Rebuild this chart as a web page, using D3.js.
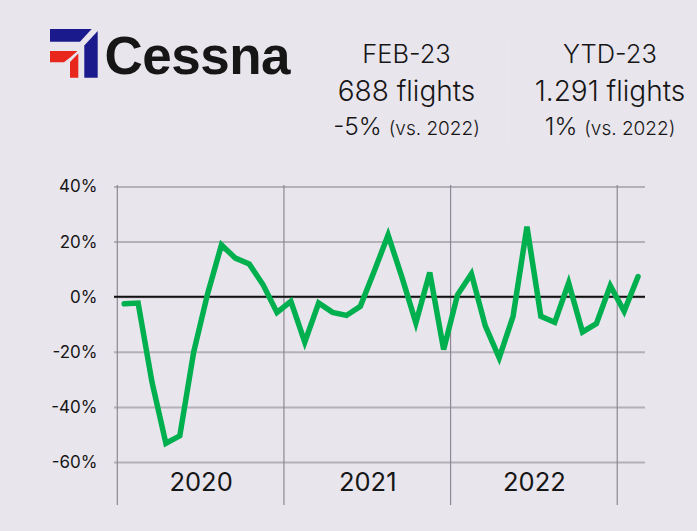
<!DOCTYPE html>
<html><head><meta charset="utf-8">
<script src="https://cdn.jsdelivr.net/npm/d3@7"></script>
<style>
body{margin:0;background:#e9e5ed;}
svg{display:block;}
text{font-family:Inter,"Noto Sans",sans-serif;fill:#161616;}
</style>
</head><body>
<svg id="chart" width="697" height="531"></svg>
<script>
// ---- data ----
const years = ["2020", "2021", "2022"];
const yTicks = [40, 20, 0, -20, -40, -60];
const growth2020 = [-2.6, -2.3, -31, -53.2, -50.5, -20.1, 1, 18.8, 14.0, 11.9, 4.3, -5.7];
const growth2021 = [-1.7, -16.5, -2.3, -5.7, -6.8, -3.5, 9.2, 22.4, 7, -9.5, 8.8, -19.2];
const growth2022 = [0.7, 8.3, -10.6, -22.2, -7.1, 25.4, -7.1, -9.3, 5.0, -12.8, -9.8, 4.0];
const growth2023 = [-5.3, 7.3];
const kpiTitles = ["FEB-23", "YTD-23"];
const kpiFlights = ["688 flights", "1.291 flights"];
const kpiChange = ["-5%", "1%"];
const kpiCompare = "(vs. 2022)";
const brand = "Cessna";

const growth = [...growth2020, ...growth2021, ...growth2022, ...growth2023];

const svg = d3.select("#chart");
svg.append("rect").attr("width", 697).attr("height", 531).attr("fill", "#e9e5ed");

const x = d3.scaleLinear().domain([0, 38]).range([117.3, 645]);
const y = d3.scaleLinear().domain([-60, 40]).range([462, 186.5]);

// horizontal gridlines + y labels
const yAxis = d3.axisLeft(y).tickValues(yTicks)
  .tickFormat(d => d + "%")
  .tickSize(-(645 - 114)).tickPadding(16.5);
const gy = svg.append("g").attr("transform", "translate(114,0)").call(yAxis);
gy.select(".domain").remove();
gy.selectAll(".tick line").attr("stroke", "#b4b0b8").attr("stroke-width", 2);
gy.selectAll(".tick text").attr("font-size", 17).attr("font-weight", 400)
  .attr("fill", "#161616").style("font-family", "Inter");

// vertical year separators
const seps = [0, 12, 24, 36];
svg.append("g").selectAll("line").data(seps).join("line")
  .attr("x1", d => x(d)).attr("x2", d => x(d))
  .attr("y1", 185).attr("y2", 505)
  .attr("stroke", "#8c8990").attr("stroke-width", 1.2);

// zero line
svg.append("line").attr("x1", 114).attr("x2", 645)
  .attr("y1", y(0)).attr("y2", y(0))
  .attr("stroke", "#111").attr("stroke-width", 2);

// year labels
const xAxis = d3.axisBottom(x).tickValues([6, 18, 30])
  .tickFormat((d, i) => years[i]).tickSize(0).tickPadding(0);
const gx = svg.append("g").attr("transform", "translate(0,490.5)").call(xAxis);
gx.select(".domain").remove();
gx.selectAll(".tick text").attr("dy", 0).attr("font-size", 25.5).attr("font-weight", 400)
  .attr("fill", "#161616").style("font-family", "Inter");

// line
const line = d3.line().x((d, i) => x(i + 0.5)).y(d => y(d));
svg.append("path").datum(growth)
  .attr("d", line).attr("fill", "none")
  .attr("stroke", "#00b04f").attr("stroke-width", 5.5)
  .attr("stroke-linejoin", "miter").attr("stroke-linecap", "round");

// logo
const logo = svg.append("g");
logo.append("path").attr("d", "M50,29 L91.7,29 L80,41.7 L50,41.7 Z").attr("fill", "#1b1a8c");
logo.append("path").attr("d", "M97.7,31 L97.7,77.7 L84.3,77.7 L84.3,45.5 Z").attr("fill", "#1b1a8c");
logo.append("path").attr("d", "M50,51 L77.5,51 Q70,58 64,62.3 L50,62.3 Z").attr("fill", "#e8261c");
logo.append("path").attr("d", "M78.3,53.5 L78.3,77.7 L70,77.7 L70,62 Z").attr("fill", "#e8261c");
logo.append("text").attr("x", 104.5).attr("y", 73.5).text(brand)
  .attr("font-size", 53).attr("font-weight", 700)
  .style("font-family", "'Liberation Sans',Arial,sans-serif").attr("fill", "#0a0a0a")
  .attr("letter-spacing", -0.5);

// divider
svg.append("line").attr("x1", 508.3).attr("x2", 508.3).attr("y1", 38).attr("y2", 142)
  .attr("stroke", "#ecE9f0").attr("stroke-width", 1);

// KPI blocks
const centers = [406.5, 610];
centers.forEach((cx, i) => {
  svg.append("text").attr("x", cx).attr("y", 63.3).attr("text-anchor", "middle")
    .attr("font-size", 25.5).attr("font-weight", 350).text(kpiTitles[i]);
  svg.append("text").attr("x", cx).attr("y", 100.7).attr("text-anchor", "middle")
    .attr("font-size", 28).attr("font-weight", 350).text(kpiFlights[i]);
  const t = svg.append("text").attr("x", cx).attr("y", 135).attr("text-anchor", "middle");
  t.append("tspan").attr("font-size", 24.5).attr("font-weight", 350).text(kpiChange[i] + " ");
  t.append("tspan").attr("font-size", 19).attr("font-weight", 350).text(kpiCompare);
});
</script>
</body></html>
